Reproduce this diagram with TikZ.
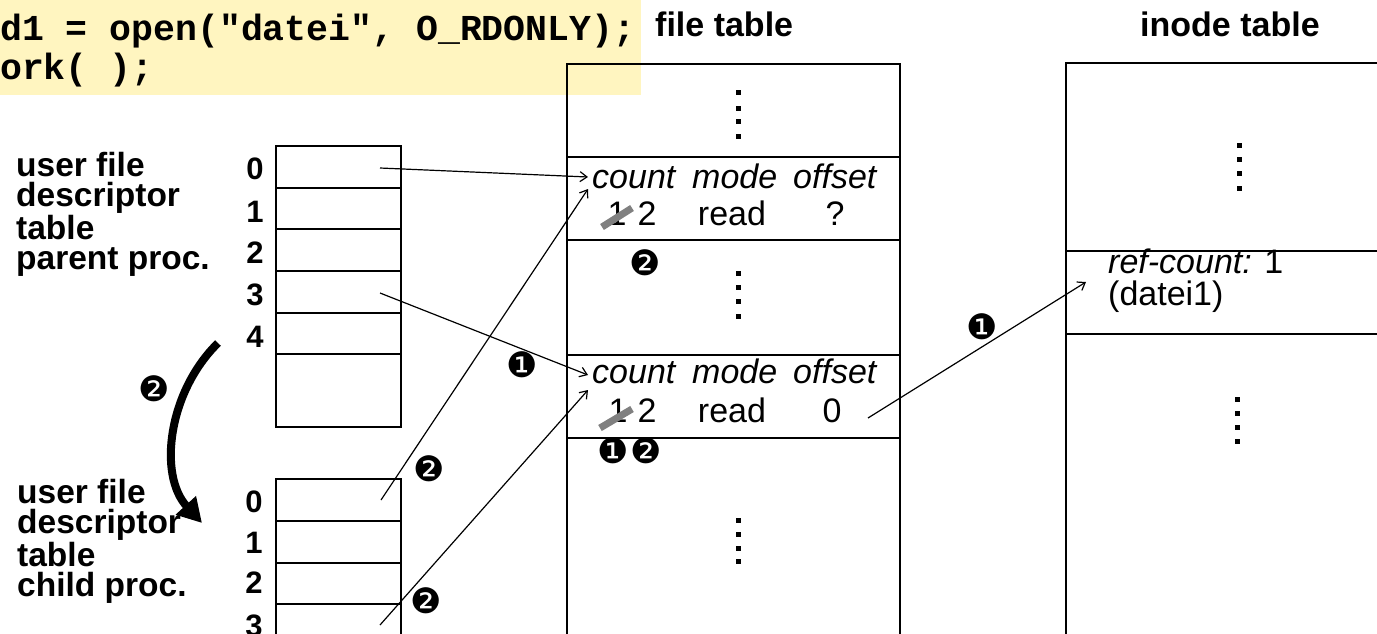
\documentclass[tikz,border=0pt]{standalone}
\usepackage{fontspec}
\setmainfont{Liberation Sans}
\newfontfamily\codefont{Liberation Mono}
\newfontfamily\dingfont{DejaVu Sans}
\usetikzlibrary{arrows.meta}
\definecolor{codebg}{RGB}{255,245,192}
\definecolor{strikegray}{RGB}{128,128,128}
\tikzset{
  tbl/.style={draw, line width=2, inner sep=0, outer sep=0},
  conn/.style={line width=1.2, -{Straight Barb[length=7,width=10]}},
  lbl/.style={anchor=north west, inner sep=0, align=left, font=\bfseries\fontsize{33.5}{30.5}\selectfont},
  idx/.style={anchor=base, inner sep=0, font=\bfseries\fontsize{31}{31}\selectfont},
  ttl/.style={anchor=base west, inner sep=0, font=\bfseries\fontsize{34}{34}\selectfont},
  ent/.style={anchor=base, inner sep=0, font=\fontsize{34}{34}\selectfont},
  enti/.style={anchor=base west, inner sep=0, font=\itshape\fontsize{34}{34}\selectfont},
  ding/.style={inner sep=0, font=\dingfont\fontsize{35}{35}\selectfont},
  dotsq/.style={fill=black, minimum size=5, inner sep=0, outer sep=0},
}
\begin{document}
\begin{tikzpicture}[x=1pt,y=-1pt]
\useasboundingbox (0,0) rectangle (1377,633);
\clip (0,0) rectangle (1377,633);
% code box
\fill[codebg] (0,0) rectangle (641,95);
\node[anchor=base west, inner sep=0, font=\codefont\bfseries\fontsize{36.5}{40}\selectfont] (code1) at (0,40) {d1 = open("datei", O\_RDONLY);};
\node[anchor=base west, inner sep=0, font=\codefont\bfseries\fontsize{36.5}{40}\selectfont] (code2) at (0,79) {ork( );};
% titles
\node[ttl] (tft) at (655,36) {file table};
\node[ttl] (tit) at (1140,36) {inode table};
% file table
\node[tbl, minimum width=333, minimum height=93] (ft0) at (733.5,110.5) {};
\node[tbl, minimum width=333, minimum height=83] (fe1) at (733.5,198.5) {};
\node[tbl, minimum width=333, minimum height=115] (ft1) at (733.5,297.5) {};
\node[tbl, minimum width=333, minimum height=83] (fe2) at (733.5,396.5) {};
\node[tbl, minimum width=333, minimum height=262] (ft2) at (733.5,569) {};
% inode table
\node[tbl, minimum width=354, minimum height=188] (it0) at (1243,157) {};
\node[tbl, minimum width=354, minimum height=83] (ie1) at (1243,292.5) {};
\node[tbl, minimum width=354, minimum height=366] (it1) at (1243,517) {};
% dots
\foreach \y in {92.7,108.3,121.7,136} {\node[dotsq] at (738.3,\y) {};}
\foreach \y in {273.3,287.7,301.7,316} {\node[dotsq] at (738.3,\y) {};}
\foreach \y in {520,534,548.3,561.7} {\node[dotsq] at (738.3,\y) {};}
\foreach \y in {145,159.3,173.3,188.3} {\node[dotsq] at (1239,\y) {};}
\foreach \y in {399,413.3,427.3,441} {\node[dotsq] at (1237.7,\y) {};}
% parent table
\node[tbl, minimum width=125, minimum height=42] (p0) at (338.5,167) {};
\node[tbl, minimum width=125, minimum height=41] (p1) at (338.5,208.5) {};
\node[tbl, minimum width=125, minimum height=42] (p2) at (338.5,250) {};
\node[tbl, minimum width=125, minimum height=42] (p3) at (338.5,292) {};
\node[tbl, minimum width=125, minimum height=41] (p4) at (338.5,333.5) {};
\node[tbl, minimum width=125, minimum height=73] (p5) at (338.5,390.5) {};
\node[idx] (pi0) at (255,179) {0};
\node[idx] (pi1) at (255,222) {1};
\node[idx] (pi2) at (255,263) {2};
\node[idx] (pi3) at (255,305) {3};
\node[idx] (pi4) at (255,347) {4};
\node[lbl] (plbl) at (16,152) {user file\\descriptor\\table\\parent proc.};
% child table
\node[tbl, minimum width=125, minimum height=42] (c0) at (338.5,500) {};
\node[tbl, minimum width=125, minimum height=42] (c1) at (338.5,542) {};
\node[tbl, minimum width=125, minimum height=41] (c2) at (338.5,583.5) {};
\node[tbl, minimum width=125, minimum height=42] (c3) at (338.5,625) {};
\node[idx] (ci0) at (254,512) {0};
\node[idx] (ci1) at (254,553) {1};
\node[idx] (ci2) at (254,593) {2};
\node[idx] (ci3) at (254,636) {3};
\node[lbl] (clbl) at (17,479) {user file\\descriptor\\table\\child proc.};
% entry 1
\node[enti] (e1c) at (592,188) {count};
\node[enti] (e1m) at (692,188) {mode};
\node[enti] (e1o) at (793,188) {offset};
\node[ent] (e1n1) at (617,225) {1};
\node[ent] (e1n2) at (647,225) {2};
\node[ent] (e1r) at (732,225) {read};
\node[ent] (e1q) at (835,225) {?};
\draw[strikegray, line width=7] (602,227) -- (632,208);
% entry 2
\node[enti] (e2c) at (592,383) {count};
\node[enti] (e2m) at (692,383) {mode};
\node[enti] (e2o) at (793,383) {offset};
\node[ent] (e2n1) at (618,422) {1};
\node[ent] (e2n2) at (647,422) {2};
\node[ent] (e2r) at (732,422) {read};
\node[ent] (e2z) at (832,422) {0};
\draw[strikegray, line width=7] (600,428) -- (632,409);
% inode entry
\node[anchor=base west, inner sep=0, font=\fontsize{34}{34}\selectfont] (ref) at (1108,273) {\textit{ref-count:} 1};
\node[anchor=base west, inner sep=0, font=\fontsize{34}{34}\selectfont] (dat) at (1108,305) {(datei1)};
% markers
\node[ding] (m1) at (645,263) {❷};
\node[ding] (m2) at (613,451) {❶};
\node[ding] (m3) at (646,451) {❷};
\node[ding] (m4) at (522,365) {❶};
\node[ding] (m5) at (982,327) {❶};
\node[ding] (m6) at (154,389) {❷};
\node[ding] (m7) at (429,469) {❷};
\node[ding] (m8) at (426,601) {❷};
% connectors
\coordinate (s0) at (380,168);
\coordinate (s3) at (380,293);
\coordinate (t0) at (381,500);
\coordinate (t3) at (380,625);
\coordinate (so) at (868,418);
\coordinate (a1) at (588,177);
\coordinate (a2) at (588,375);
\coordinate (a3) at (588,189);
\coordinate (a4) at (588,390);
\coordinate (a5) at (1086,282);
\draw[conn] (s0) -- (a1);
\draw[conn] (s3) -- (a2);
\draw[conn] (t0) -- (a3);
\draw[conn] (t3) -- (a4);
\draw[conn] (so) -- (a5);
% fork arrow
\coordinate (fk0) at (218,343);
\coordinate (fk1) at (202,523);
\draw[line width=8, -{Triangle[length=24,width=26]}] (fk0) .. controls (168,392) and (158,475) .. (fk1);
\end{tikzpicture}
\end{document}
